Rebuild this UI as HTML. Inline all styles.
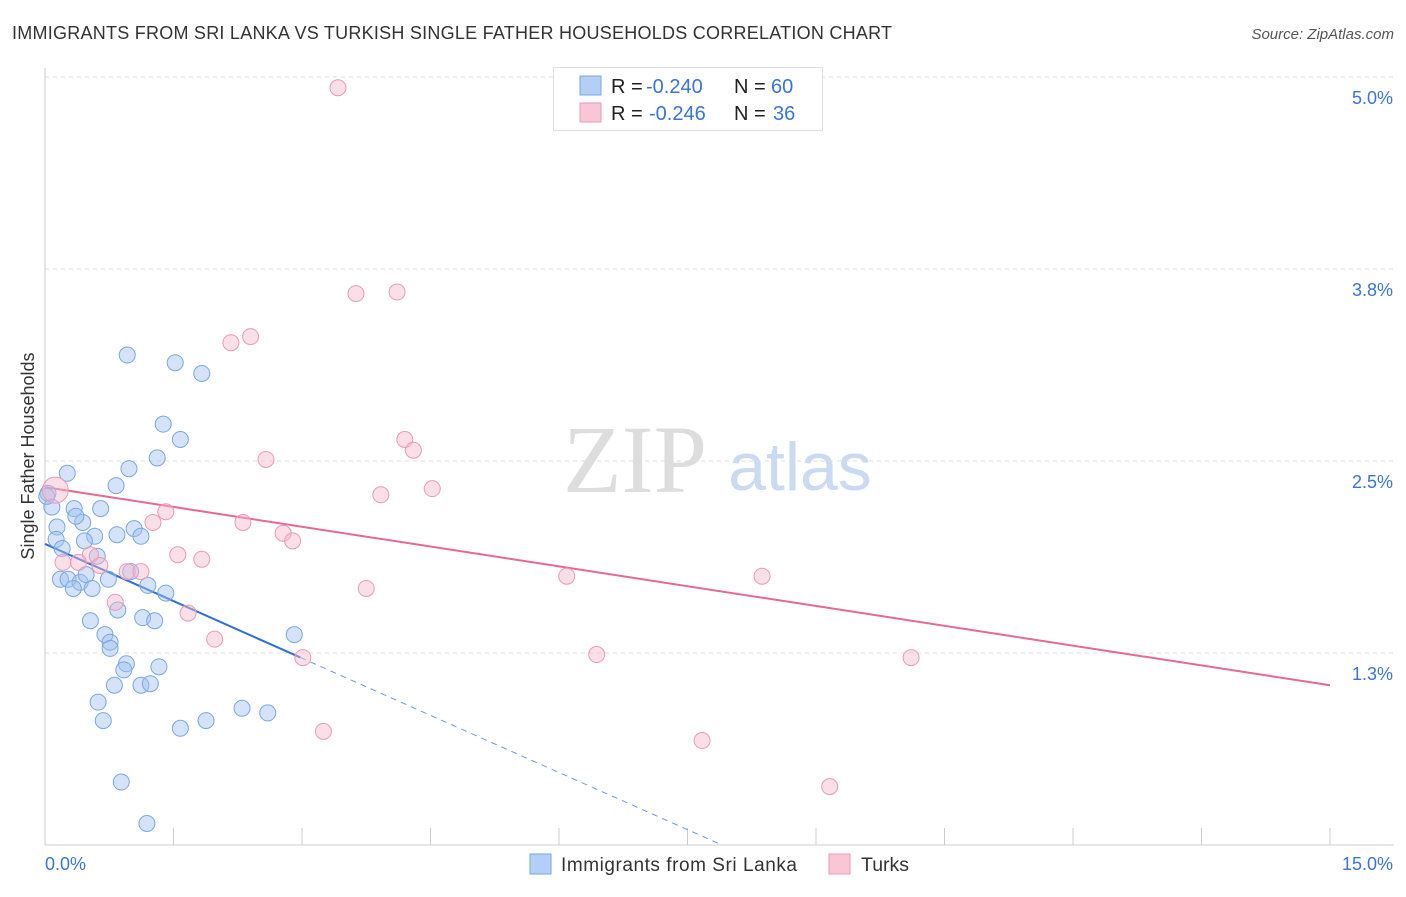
<!DOCTYPE html>
<html><head><meta charset="utf-8"><style>
body{margin:0;background:#fff;font-family:"Liberation Sans",sans-serif}
svg text{font-family:"Liberation Sans",sans-serif}
</style></head><body>
<svg id="chart" width="1406" height="892">
<text x="12" y="39" font-size="18" fill="#333" textLength="880">IMMIGRANTS FROM SRI LANKA VS TURKISH SINGLE FATHER HOUSEHOLDS CORRELATION CHART</text>
<text x="1394" y="39" font-size="15" fill="#555" font-style="italic" text-anchor="end">Source: ZipAtlas.com</text>
<text x="635" y="492" font-size="96" fill="#ddd" font-family="Liberation Serif" text-anchor="middle" style="font-family:'Liberation Serif',serif">ZIP</text>
<text x="800" y="490" font-size="68" fill="#c9daf2" text-anchor="middle">atlas</text>
<text transform="translate(34,456) rotate(-90)" font-size="18" fill="#333" text-anchor="middle">Single Father Households</text>
<g id="grid"></g><g id="axes"></g><g id="lines"></g><g id="pts"></g>
<g>
<rect x="553.5" y="67.5" width="269" height="63" fill="#fff" stroke="#ddd"/>
<rect x="580" y="76" width="21" height="19" fill="#b3cff5" stroke="#7aa6e6"/>
<rect x="580" y="103" width="21" height="19" fill="#f9c6d5" stroke="#eb9ab5"/>
<text y="93" font-size="20" fill="#222"><tspan x="611">R =</tspan><tspan x="646" fill="#3a74d6">-0.240</tspan><tspan x="734">N =</tspan><tspan x="771" fill="#3a74d6">60</tspan></text>
<text y="120" font-size="20" fill="#222"><tspan x="611">R =</tspan><tspan x="649" fill="#3a74d6">-0.246</tspan><tspan x="734">N =</tspan><tspan x="773" fill="#3a74d6">36</tspan></text>
</g>
<g>
<rect x="530" y="854" width="21" height="20" fill="#b3cff5" stroke="#7aa6e6"/>
<text x="561" y="871" font-size="19" fill="#333" textLength="236">Immigrants from Sri Lanka</text>
<rect x="829" y="854" width="21" height="20" fill="#f9c6d5" stroke="#eb9ab5"/>
<text x="861" y="871" font-size="19.5" fill="#333">Turks</text>
</g>
</svg>
<script>
const xTicks=[0,1.5,3,4.5,6,7.5,9,10.5,12,13.5,15];
const yTicks=[5.0,3.75,2.5,1.25];
const yTickLabels=["5.0%","3.8%","2.5%","1.3%"];
const blueX=[0.035,0.08,0.26,0.14,0.34,0.44,0.13,0.20,0.36,0.58,0.65,0.83,0.98,0.84,0.46,0.18,0.27,0.41,0.33,0.48,0.61,0.55,0.74,1.00,1.20,1.41,1.14,1.28,0.85,0.53,0.70,0.76,0.76,0.95,0.92,1.33,0.81,1.12,1.23,0.62,0.68,1.58,1.88,2.30,2.60,0.89,1.19,0.96,1.52,1.83,1.38,1.58,1.31,1.04,1.12,2.91,0.02];
const blueY=[2.29,2.20,2.42,2.07,2.19,2.10,1.99,1.93,2.14,2.01,2.19,2.34,2.45,2.02,1.98,1.73,1.73,1.71,1.67,1.76,1.88,1.67,1.73,1.78,1.69,1.64,1.48,1.46,1.53,1.46,1.37,1.32,1.28,1.18,1.14,1.16,1.04,1.04,1.05,0.93,0.81,0.76,0.81,0.89,0.86,0.41,0.14,3.19,3.14,3.07,2.74,2.64,2.52,2.06,2.01,1.37,2.27];
const pinkX=[3.42,3.63,4.11,2.17,2.40,4.20,4.30,2.58,3.92,4.52,1.41,1.26,2.31,2.78,2.89,1.55,1.83,0.53,0.64,0.96,1.12,0.82,1.67,1.98,3.01,3.75,6.09,8.37,6.44,10.11,7.67,9.16,3.25,0.21,0.12,0.39];
const pinkY=[4.93,3.59,3.60,3.27,3.31,2.64,2.57,2.51,2.28,2.32,2.17,2.10,2.10,2.03,1.98,1.89,1.86,1.89,1.82,1.78,1.78,1.58,1.51,1.34,1.22,1.67,1.75,1.75,1.24,1.22,0.68,0.38,0.74,1.84,2.31,1.84];
const blueTrend=[1.96,-0.248]; const pinkTrend=[2.33,-0.086];
const sx=v=>45+v/15*1285, sy=v=>845-v*153.6;
const NS="http://www.w3.org/2000/svg";
function mk(p,t,a){const e=document.createElementNS(NS,t);for(const k in a)e.setAttribute(k,a[k]);document.getElementById(p).appendChild(e);return e;}
yTicks.forEach((v,i)=>{
 const g=mk('grid','line',{x1:45,x2:1394,y1:sy(v),y2:sy(v),stroke:'#ddd','stroke-dasharray':'4 4'});
 
 
 const t=mk('axes','text',{x:1393,y:sy(v)+27,'font-size':18,fill:'#3a74d6','text-anchor':'end'});t.textContent=yTickLabels[i];
 
 
});
let a=mk('axes','line',{x1:45,x2:45,y1:68,y2:845,stroke:'#ccc'});


a=mk('axes','line',{x1:45,x2:1394,y1:845,y2:845,stroke:'#ccc'});


xTicks.forEach(v=>{const t=mk('axes','line',{x1:sx(v),x2:sx(v),y1:828,y2:845,stroke:'#ccc'});
 
 });
let l=mk('axes','text',{x:45,y:870,'font-size':18,fill:'#3a74d6'});l.textContent='0.0%';


l=mk('axes','text',{x:1393,y:870,'font-size':18,fill:'#3a74d6','text-anchor':'end'});l.textContent='15.0%';


blueX.forEach((x,i)=>{const c=mk('pts','circle',{cx:sx(x),cy:sy(blueY[i]),r:8,fill:'rgba(160,194,240,0.45)',stroke:'#7aa6e6','stroke-width':1});
 
 });
pinkX.forEach((x,i)=>{const c=mk('pts','circle',{cx:sx(x),cy:sy(pinkY[i]),r:i==34?13:8,fill:'rgba(246,184,203,0.45)',stroke:'#eb9ab5','stroke-width':1});
 
 });
const bEnd=2.98, bZero=-blueTrend[0]/blueTrend[1];
let t=mk('lines','line',{x1:sx(0),y1:sy(blueTrend[0]),x2:sx(bEnd),y2:sy(blueTrend[0]+blueTrend[1]*bEnd),stroke:'#2f6fd8','stroke-width':2});


t=mk('lines','line',{x1:sx(bEnd),y1:sy(blueTrend[0]+blueTrend[1]*bEnd),x2:sx(bZero),y2:sy(0),stroke:'#6a9ae0','stroke-width':1,'stroke-dasharray':'6 5'});


t=mk('lines','line',{x1:sx(0),y1:sy(pinkTrend[0]),x2:sx(15),y2:sy(pinkTrend[0]+pinkTrend[1]*15),stroke:'#e8688f','stroke-width':2});


</script>
</body></html>
